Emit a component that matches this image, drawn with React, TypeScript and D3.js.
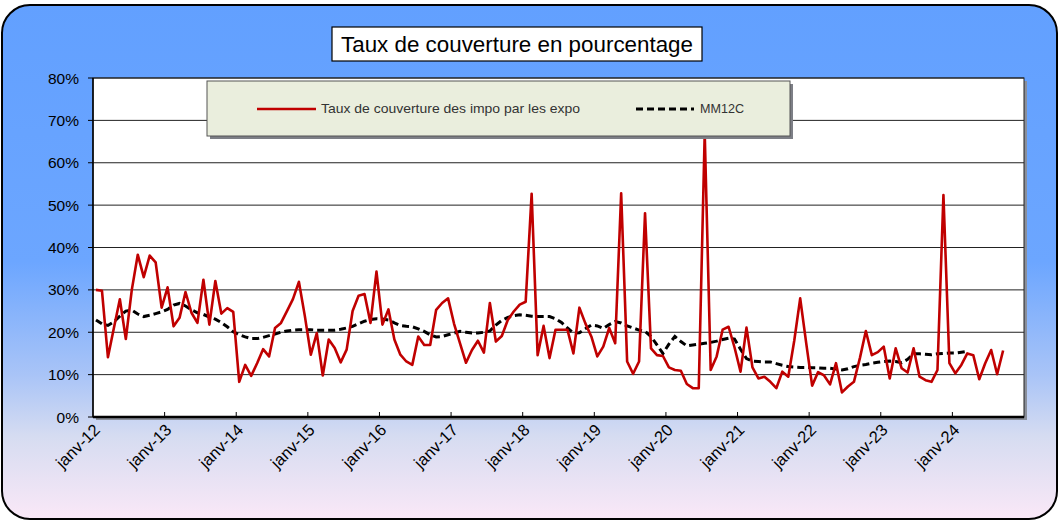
import React from "react";
import * as d3 from "d3";

const yearLabels = ["janv-12","janv-13","janv-14","janv-15","janv-16","janv-17","janv-18","janv-19","janv-20","janv-21","janv-22","janv-23","janv-24"];
const nCategories = 156;

const tauxCouverture = [
  30, 29.8, 14.1, 21, 27.8, 18.4, 30, 38.3, 33, 38.1, 36.5, 25.8,
  30.6, 21.4, 23.4, 29.5, 24.6, 22.2, 32.4, 21.8, 32.1, 24.4, 25.7, 24.8,
  8.3, 12.3, 9.7, 12.7, 16, 14.3, 21, 22.2, 25, 27.8, 31.9, 23.8,
  14.7, 19.8, 9.8, 18.3, 16.3, 12.9, 15.9, 25, 28.6, 29, 22.2, 34.3,
  21.8, 25.4, 18.3, 14.7, 13.1, 12.3, 19, 17, 17, 25.3, 26.9, 28,
  22, 17.4, 12.8, 15.8, 18, 15.2, 26.9, 17.8, 19.1, 22.9, 24.9, 26.5,
  27.2, 52.7, 14.6, 21.5, 13.9, 20.6, 20.6, 20.6, 15, 25.8, 22.1, 19,
  14.3, 16.6, 21, 17.4, 52.8, 13.1, 10.2, 13.1, 48.1, 16.2, 14.6, 14.4,
  11.7, 11.1, 10.9, 7.8, 6.8, 6.8, 67, 11.1, 14.3, 20.6, 21.3, 16.4,
  10.7, 21.1, 11.7, 9.1, 9.5, 8.3, 6.8, 10.7, 9.5, 18, 28, 17.5,
  7.4, 10.6, 9.8, 7.7, 12.7, 5.8, 7.2, 8.3, 13.9, 20.3, 14.6, 15.3,
  16.6, 9.1, 16.2, 11.5, 10.5, 16.2, 9.5, 8.7, 8.3, 11.1, 52.4, 12.7,
  10.3, 12.3, 15, 14.6, 8.9, 12.7, 15.8, 10.1, 15.7
];

const mm12c = [
  22.9, 22.0, 21.6, 22.5, 23.8, 25.0, 25.2, 24.3, 23.7, 24.0, 24.4, 24.8,
  25.4, 26.4, 26.8, 26.2, 25.3, 24.6, 24.2, 23.6, 23.1, 22.3, 21.3, 20.1,
  19.4, 18.9, 18.5, 18.5, 18.8, 19.2, 19.6, 20.0, 20.3, 20.5, 20.6, 20.6,
  20.6, 20.5, 20.5, 20.5, 20.5, 20.7, 21.0, 21.4, 22.0, 22.6, 23.0, 23.2,
  23.1, 22.9, 22.2, 21.6, 21.4, 21.3, 20.8, 20.2, 19.4, 18.9, 19.0, 19.4,
  19.8, 20.2, 20.0, 19.8, 19.8, 20.0, 20.3, 21.7, 22.8, 23.5, 23.9, 24.1,
  24.0, 23.8, 23.7, 23.7, 23.7, 23.2, 22.3, 21.0, 19.8, 19.9, 20.8, 21.7,
  21.5, 20.9, 21.8, 22.5, 22.2, 21.5, 21.0, 20.5, 20.2, 19.0, 17.0, 15.0,
  17.2, 19.0, 17.8, 16.8, 17.0, 17.2, 17.4, 17.6, 17.9, 18.3, 18.6, 18.4,
  16.0, 13.8, 13.2, 13.1, 13.0, 13.0, 12.6, 12.2, 11.9, 11.8, 11.7, 11.7,
  11.6, 11.6, 11.5, 11.5, 11.3, 11.1, 11.4, 11.9, 12.2, 12.4, 12.7, 12.9,
  13.1, 13.2, 13.1, 12.8, 13.6, 14.9, 14.9, 14.8, 14.7, 14.9, 15.0, 15.1,
  15.1, 15.3, 15.5
];

const yTicks = [0, 10, 20, 30, 40, 50, 60, 70, 80];
const titleText = "Taux de couverture en pourcentage";
const legendRed = "Taux de couverture des impo par les expo";
const legendBlack = "MM12C";

const W = 1060, H = 522;
const plot = { left: 93, right: 1024, top: 78, bottom: 417 };
const FONT = "Arial, 'Liberation Sans', sans-serif";

export default function App() {
  const x = d3.scaleLinear().domain([0, nCategories]).range([plot.left, plot.right]);
  const y = d3.scaleLinear().domain([0, 80]).range([plot.bottom, plot.top]);
  const cx = (i: number) => x(i + 0.5);
  const line = d3.line<number>().x((_, i) => cx(i)).y((d) => y(d));

  return (
    <svg width={W} height={H} style={{ position: "absolute", left: 0, top: 0 }} fontFamily={FONT}>
      <defs>
        <linearGradient id="bg" x1="0" y1="0" x2="0" y2="1">
          <stop offset="0" stopColor="#62A0FF" />
          <stop offset="0.5" stopColor="#6CA6FF" />
          <stop offset="0.72" stopColor="#A9C4F7" />
          <stop offset="0.84" stopColor="#D6DCF1" />
          <stop offset="1" stopColor="#FAE8F7" />
        </linearGradient>
      </defs>
      <rect x={2} y={5} width={1055} height={514} rx={28} ry={28} fill="url(#bg)" stroke="#000" strokeWidth={2} />

      {/* title */}
      <rect x={332} y={27} width={370} height={34} fill="#fff" stroke="#000" strokeWidth={1.2} />
      <text x={517} y={52} textAnchor="middle" fontSize={22} fill="#000" textLength={352} lengthAdjust="spacingAndGlyphs">{titleText}</text>

      {/* plot area shadow + background */}
      <rect x={plot.left + 3} y={plot.top + 3} width={plot.right - plot.left} height={plot.bottom - plot.top} fill="#8a8f9a" />
      <rect x={plot.left} y={plot.top} width={plot.right - plot.left} height={plot.bottom - plot.top} fill="#fff" stroke="#222" strokeWidth={1} />

      {/* gridlines */}
      {yTicks.map((t) => (
        <line key={"g" + t} x1={plot.left} x2={plot.right} y1={y(t)} y2={y(t)} stroke="#222" strokeWidth={1} />
      ))}

      {/* y axis */}
      <line x1={plot.left} x2={plot.left} y1={plot.top} y2={plot.bottom} stroke="#000" strokeWidth={1.5} />
      {yTicks.map((t) => (
        <g key={"y" + t}>
          <line x1={plot.left - 5} x2={plot.left} y1={y(t)} y2={y(t)} stroke="#000" />
          <text x={plot.left - 14} y={y(t) + 5.5} textAnchor="end" fontSize={15.5} fill="#000">{t + "%"}</text>
        </g>
      ))}

      {/* x axis */}
      <line x1={plot.left} x2={plot.right} y1={plot.bottom} y2={plot.bottom} stroke="#000" strokeWidth={2.5} />
      {d3.range(12, nCategories, 12).map((i) => (
        <line key={"xt" + i} x1={x(i)} x2={x(i)} y1={plot.bottom} y2={plot.bottom - 5} stroke="#000" />
      ))}
      {yearLabels.map((lab, k) => (
        <text key={lab} transform={`translate(${x(k * 12) + 8},${plot.bottom + 14}) rotate(-45)`} textAnchor="end" fontSize={16.5} fill="#000">{lab}</text>
      ))}

      {/* series */}
      <path d={line(mm12c) || ""} fill="none" stroke="#000" strokeWidth={3} strokeDasharray="7,4" />
      <path d={line(tauxCouverture) || ""} fill="none" stroke="#C00000" strokeWidth={2.6} strokeLinejoin="round" />

      {/* legend */}
      <rect x={210} y={84} width={583} height={55} fill="#7d7f86" />
      <rect x={207} y={81} width={583} height={55} fill="#EAEEDD" stroke="#555" strokeWidth={1} />
      <line x1={257} x2={316} y1={109} y2={109} stroke="#C00000" strokeWidth={2.6} />
      <text x={321} y={113} fontSize={13} fill="#333" textLength={259} lengthAdjust="spacingAndGlyphs">{legendRed}</text>
      <line x1={636} x2={694} y1={109} y2={109} stroke="#000" strokeWidth={3} strokeDasharray="7,4" />
      <text x={700} y={113} fontSize={13} fill="#333" textLength={44} lengthAdjust="spacingAndGlyphs">{legendBlack}</text>
    </svg>
  );
}
